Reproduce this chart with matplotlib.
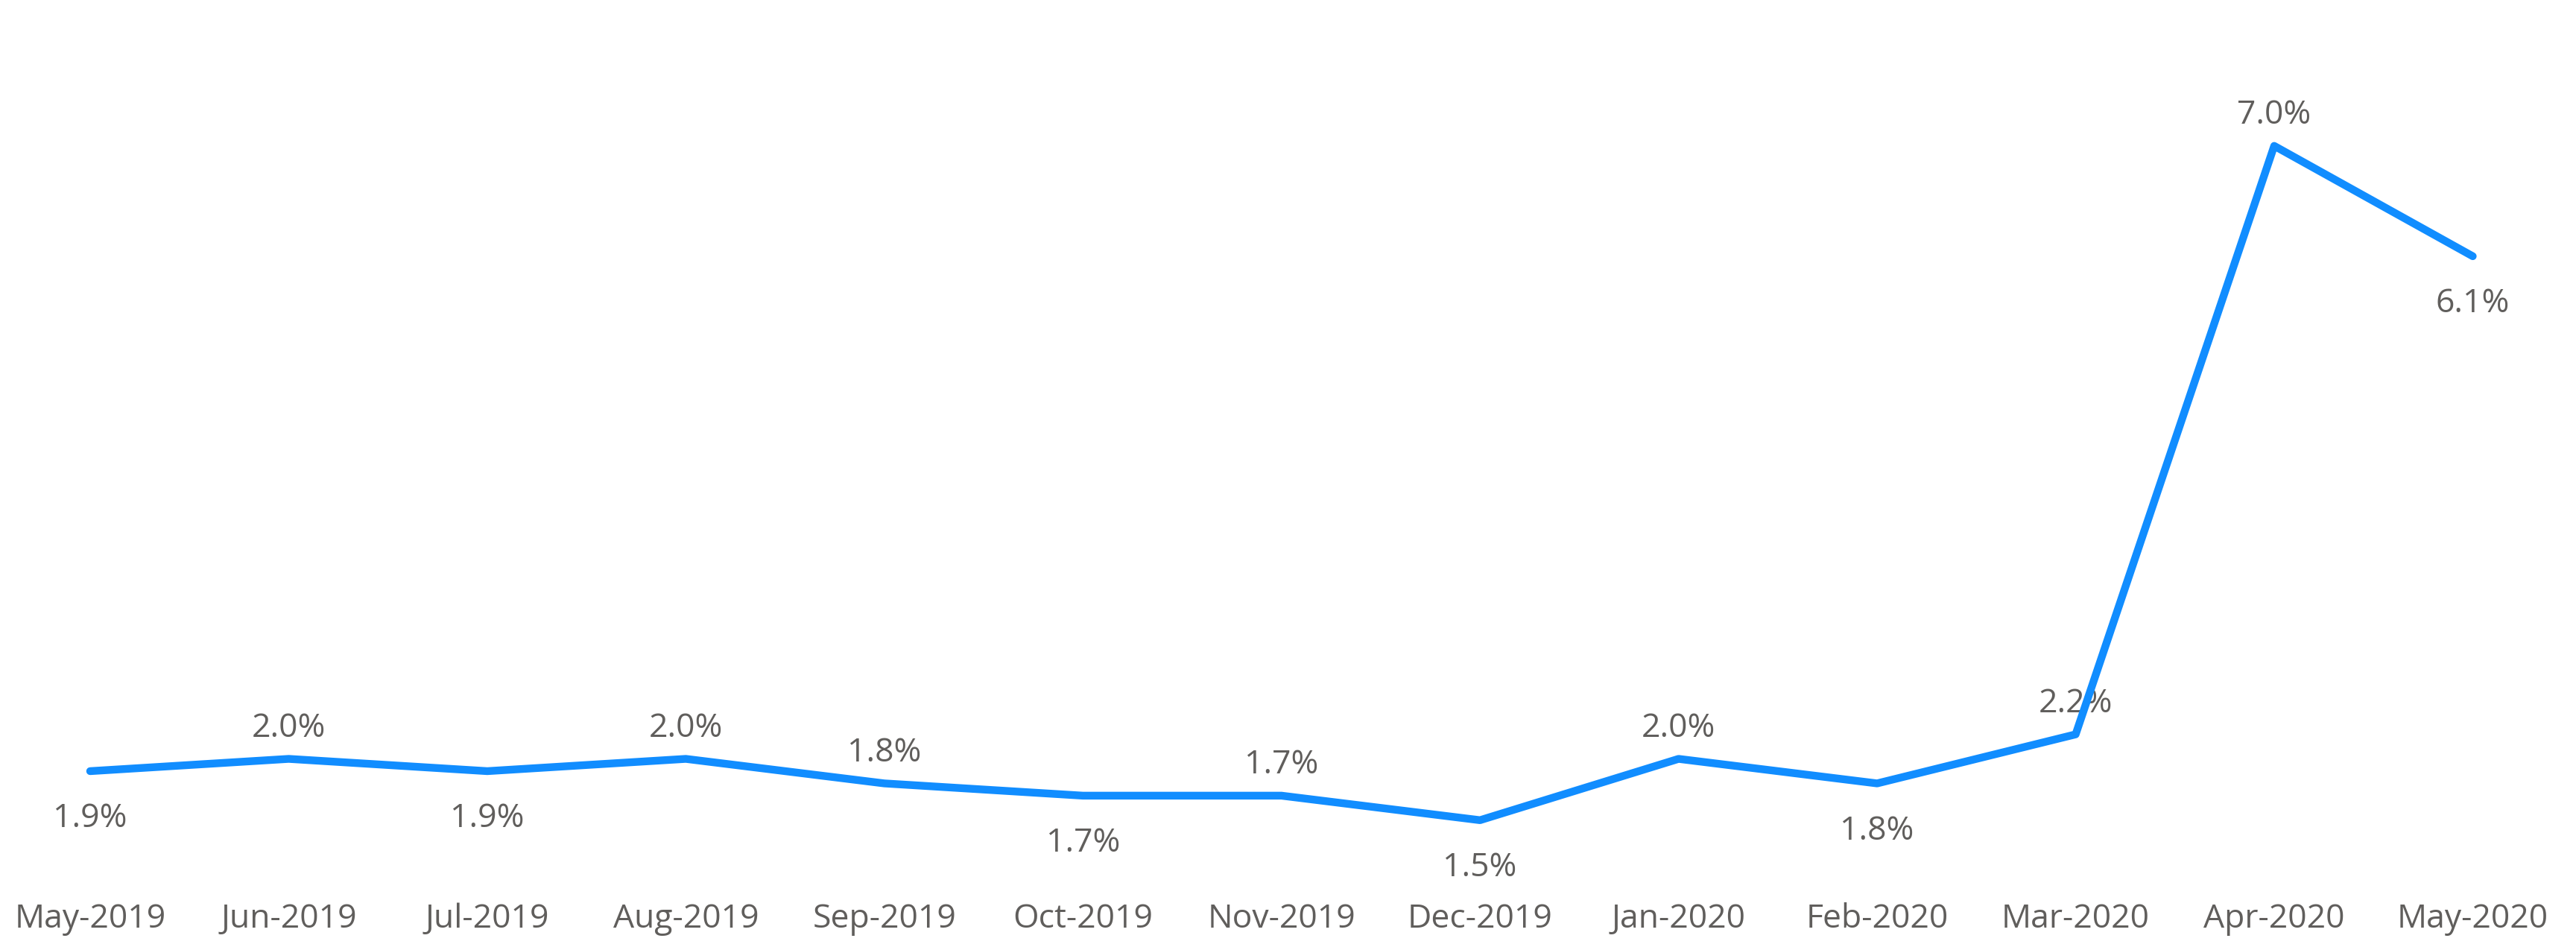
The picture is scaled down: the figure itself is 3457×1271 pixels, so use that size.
import matplotlib

matplotlib.use("Agg")
import matplotlib.pyplot as plt

MONTHS = [
    "May-2019", "Jun-2019", "Jul-2019", "Aug-2019", "Sep-2019", "Oct-2019", "Nov-2019",
    "Dec-2019", "Jan-2020", "Feb-2020", "Mar-2020", "Apr-2020", "May-2020",
]
RATE = [1.9, 2.0, 1.9, 2.0, 1.8, 1.7, 1.7, 1.5, 2.0, 1.8, 2.2, 7.0, 6.1]
LABEL_ABOVE = [False, True, False, True, True, False, True, False, True, False, True, True, False]

LINE_COLOR = "#118DFF"
TEXT_COLOR = "#605E5C"

plt.rcParams["font.family"] = ["Open Sans", "DejaVu Sans"]

fig = plt.figure(figsize=(34.57, 12.71), dpi=100)
ax = fig.add_axes([0.0, 0.1, 1.0, 0.9])

x = list(range(len(MONTHS)))
ax.plot(x, RATE, color=LINE_COLOR, linewidth=7.5, solid_joinstyle="round",
        solid_capstyle="round", zorder=3)

for xi, v, above in zip(x, RATE, LABEL_ABOVE):
    dy = 41 if above else -64
    ax.annotate(f"{v:.1f}%", (xi, v), xytext=(0, dy), textcoords="offset pixels",
                ha="center", va="center", fontsize=32, color=TEXT_COLOR, zorder=2)

ax.set_xlim(-0.454, 12.52)
ax.set_ylim(1.238, 8.19)
ax.set_xticks(x)
ax.set_xticklabels(MONTHS, fontsize=32, color=TEXT_COLOR)
ax.tick_params(axis="x", length=0, pad=49)
ax.set_yticks([])
for s in ax.spines.values():
    s.set_visible(False)

fig.savefig("out.png", dpi=100)
